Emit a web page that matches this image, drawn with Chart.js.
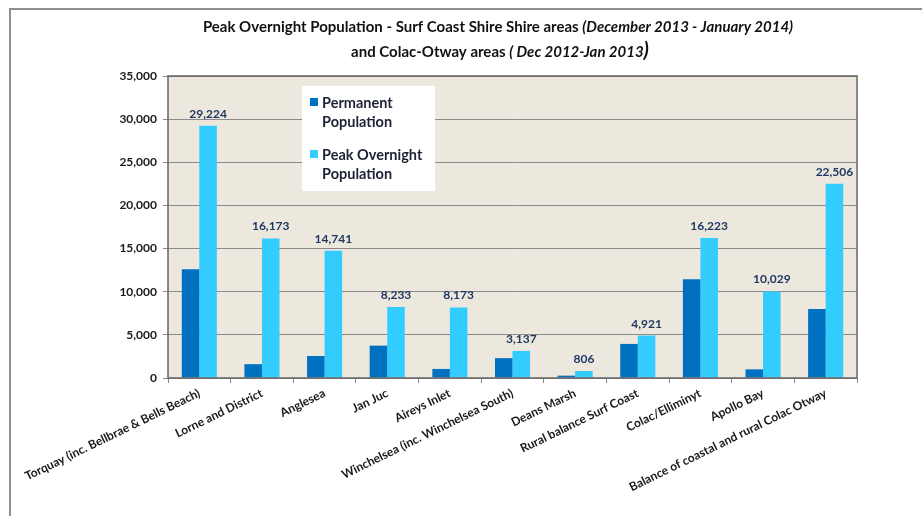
<!DOCTYPE html>
<html>
<head>
<meta charset="utf-8">
<script src="https://cdn.jsdelivr.net/npm/chart.js@4"></script>
<style>
    html, body { margin: 0; padding: 0; background: #ffffff; }
    #wrap { width: 922px; height: 516px; position: relative; }
</style>
</head>
<body>
<div id="wrap"><canvas id="popChart"></canvas></div>
<script>
const areas = [
    "Torquay (inc. Bellbrae & Bells Beach)",
    "Lorne and District",
    "Anglesea",
    "Jan Juc",
    "Aireys Inlet",
    "Winchelsea (inc. Winchelsea South)",
    "Deans Marsh",
    "Rural balance Surf Coast",
    "Colac/Elliminyt",
    "Apollo Bay",
    "Balance of coastal and rural Colac Otway",
];
const permanentPop = [12600, 1600, 2550, 3750, 1050, 2300, 270, 3950, 11450, 1000, 8000];
const peakPop = [29224, 16173, 14741, 8233, 8173, 3137, 806, 4921, 16223, 10029, 22506];
const seriesNames = ["Permanent Population", "Peak Overnight Population"];
const legendLines = [["Permanent", "Population"], ["Peak Overnight", "Population"]];
const yTicks = [0, 5000, 10000, 15000, 20000, 25000, 30000, 35000];

const darkBlue = "#0070c0";
const lightBlue = "#33ccff";
const fontName = "Lato, 'Open Sans', sans-serif";

const ctx = document.getElementById("popChart");

// frame, plot background and the two-part title
const backdrop = {
    id: "backdrop",
    beforeDraw(chart) {
        const c = chart.ctx;
        const a = chart.chartArea;
        c.save();
        c.strokeStyle = "#8f8f8f";
        c.lineWidth = 2;
        c.beginPath();
        c.moveTo(922, 9);
        c.lineTo(10, 9);
        c.lineTo(10, 516);
        c.stroke();

        c.fillStyle = "#ece8dd";
        c.fillRect(a.left, a.top, a.right - a.left, a.bottom - a.top);
        c.restore();
    },
    afterDraw(chart) {
        const c = chart.ctx;
        const a = chart.chartArea;
        c.save();
        c.strokeStyle = "#666666";
        c.lineWidth = 1.5;
        c.strokeRect(a.left, a.top, a.right - a.left, a.bottom - a.top);

        // title, mixed regular / italic
        const drawParts = (parts, y, cx) => {
            let total = 0;
            parts.forEach((p) => {
                c.font = p.font;
                total += c.measureText(p.text).width;
            });
            let x = cx - total / 2;
            parts.forEach((p) => {
                c.font = p.font;
                c.fillStyle = "#111111";
                c.textBaseline = "alphabetic";
                c.textAlign = "left";
                c.fillText(p.text, x, y);
                x += c.measureText(p.text).width;
            });
        };
        const reg = "bold 15px " + fontName;
        const ita = "italic bold 15px " + fontName;
        drawParts([
            { text: "Peak Overnight Population - Surf Coast Shire Shire areas ", font: reg },
            { text: "(December 2013 - January 2014)", font: ita },
        ], 32, 498);
        drawParts([
            { text: "and Colac-Otway areas ", font: reg },
            { text: "( Dec 2012-Jan 2013", font: ita },
            { text: ")", font: "italic bold 20px " + fontName },
        ], 57, 500);
        c.restore();
    },
};

// legend box inside the plot
const boxLegend = {
    id: "boxLegend",
    afterDatasetsDraw(chart) {
        const c = chart.ctx;
        const a = chart.chartArea;
        const left = a.left + 134;
        const top = a.top + 10;
        c.save();
        c.fillStyle = "#ffffff";
        c.fillRect(left, top, 133, 105);
        c.font = "bold 14.5px " + fontName;
        c.textBaseline = "alphabetic";
        c.textAlign = "left";
        chart.data.datasets.forEach((ds, i) => {
            const y = top + 22 + i * 52;
            c.fillStyle = ds.backgroundColor;
            c.fillRect(left + 8, y - 10, 8, 8);
            c.fillStyle = "#1c2233";
            legendLines[i].forEach((line, j) => {
                c.fillText(line, left + 20, y + j * 19);
            });
        });
        c.restore();
    },
};

// value labels above the peak bars
const peakLabels = {
    id: "peakLabels",
    afterDatasetsDraw(chart) {
        const c = chart.ctx;
        const meta = chart.getDatasetMeta(1);
        c.save();
        c.font = "bold 12px " + fontName;
        c.fillStyle = "#1f3864";
        c.textAlign = "center";
        c.textBaseline = "alphabetic";
        meta.data.forEach((bar, i) => {
            c.fillText(peakPop[i].toLocaleString("en-US"), bar.x, bar.y - 8);
        });
        c.restore();
    },
};

new Chart(ctx, {
    type: "bar",
    data: {
        labels: areas,
        datasets: [
            {
                label: seriesNames[0],
                data: permanentPop,
                backgroundColor: darkBlue,
                categoryPercentage: 0.56,
                barPercentage: 1.0,
            },
            {
                label: seriesNames[1],
                data: peakPop,
                backgroundColor: lightBlue,
                categoryPercentage: 0.56,
                barPercentage: 1.0,
            },
        ],
    },
    options: {
        responsive: true,
        maintainAspectRatio: false,
        animation: false,
        layout: {
            padding: { top: 76, left: 20, right: 65, bottom: 0 },
        },
        plugins: {
            legend: { display: false },
            tooltip: { enabled: false },
        },
        scales: {
            x: {
                grid: {
                    drawOnChartArea: false,
                    drawTicks: true,
                    tickLength: 5,
                    color: "#888888",
                },
                border: { display: false },
                ticks: {
                    minRotation: 26,
                    maxRotation: 26,
                    autoSkip: false,
                    color: "#1a1a1a",
                    font: { family: fontName, size: 12, weight: "bold" },
                },
                afterFit(scale) {
                    scale.height = 138;
                },
            },
            y: {
                min: 0,
                max: 35000,
                afterBuildTicks(scale) {
                    scale.ticks = yTicks.map((v) => ({ value: v }));
                },
                grid: {
                    color: "#8a8a8a",
                    lineWidth: 1,
                    tickLength: 5,
                },
                border: { display: false },
                ticks: {
                    color: "#1a1a1a",
                    padding: 6,
                    font: { family: fontName, size: 12, weight: "bold" },
                    callback: (v) => v.toLocaleString("en-US"),
                },
                afterFit(scale) {
                    scale.width = 148;
                },
            },
        },
    },
    plugins: [backdrop, boxLegend, peakLabels],
});
</script>
</body>
</html>
